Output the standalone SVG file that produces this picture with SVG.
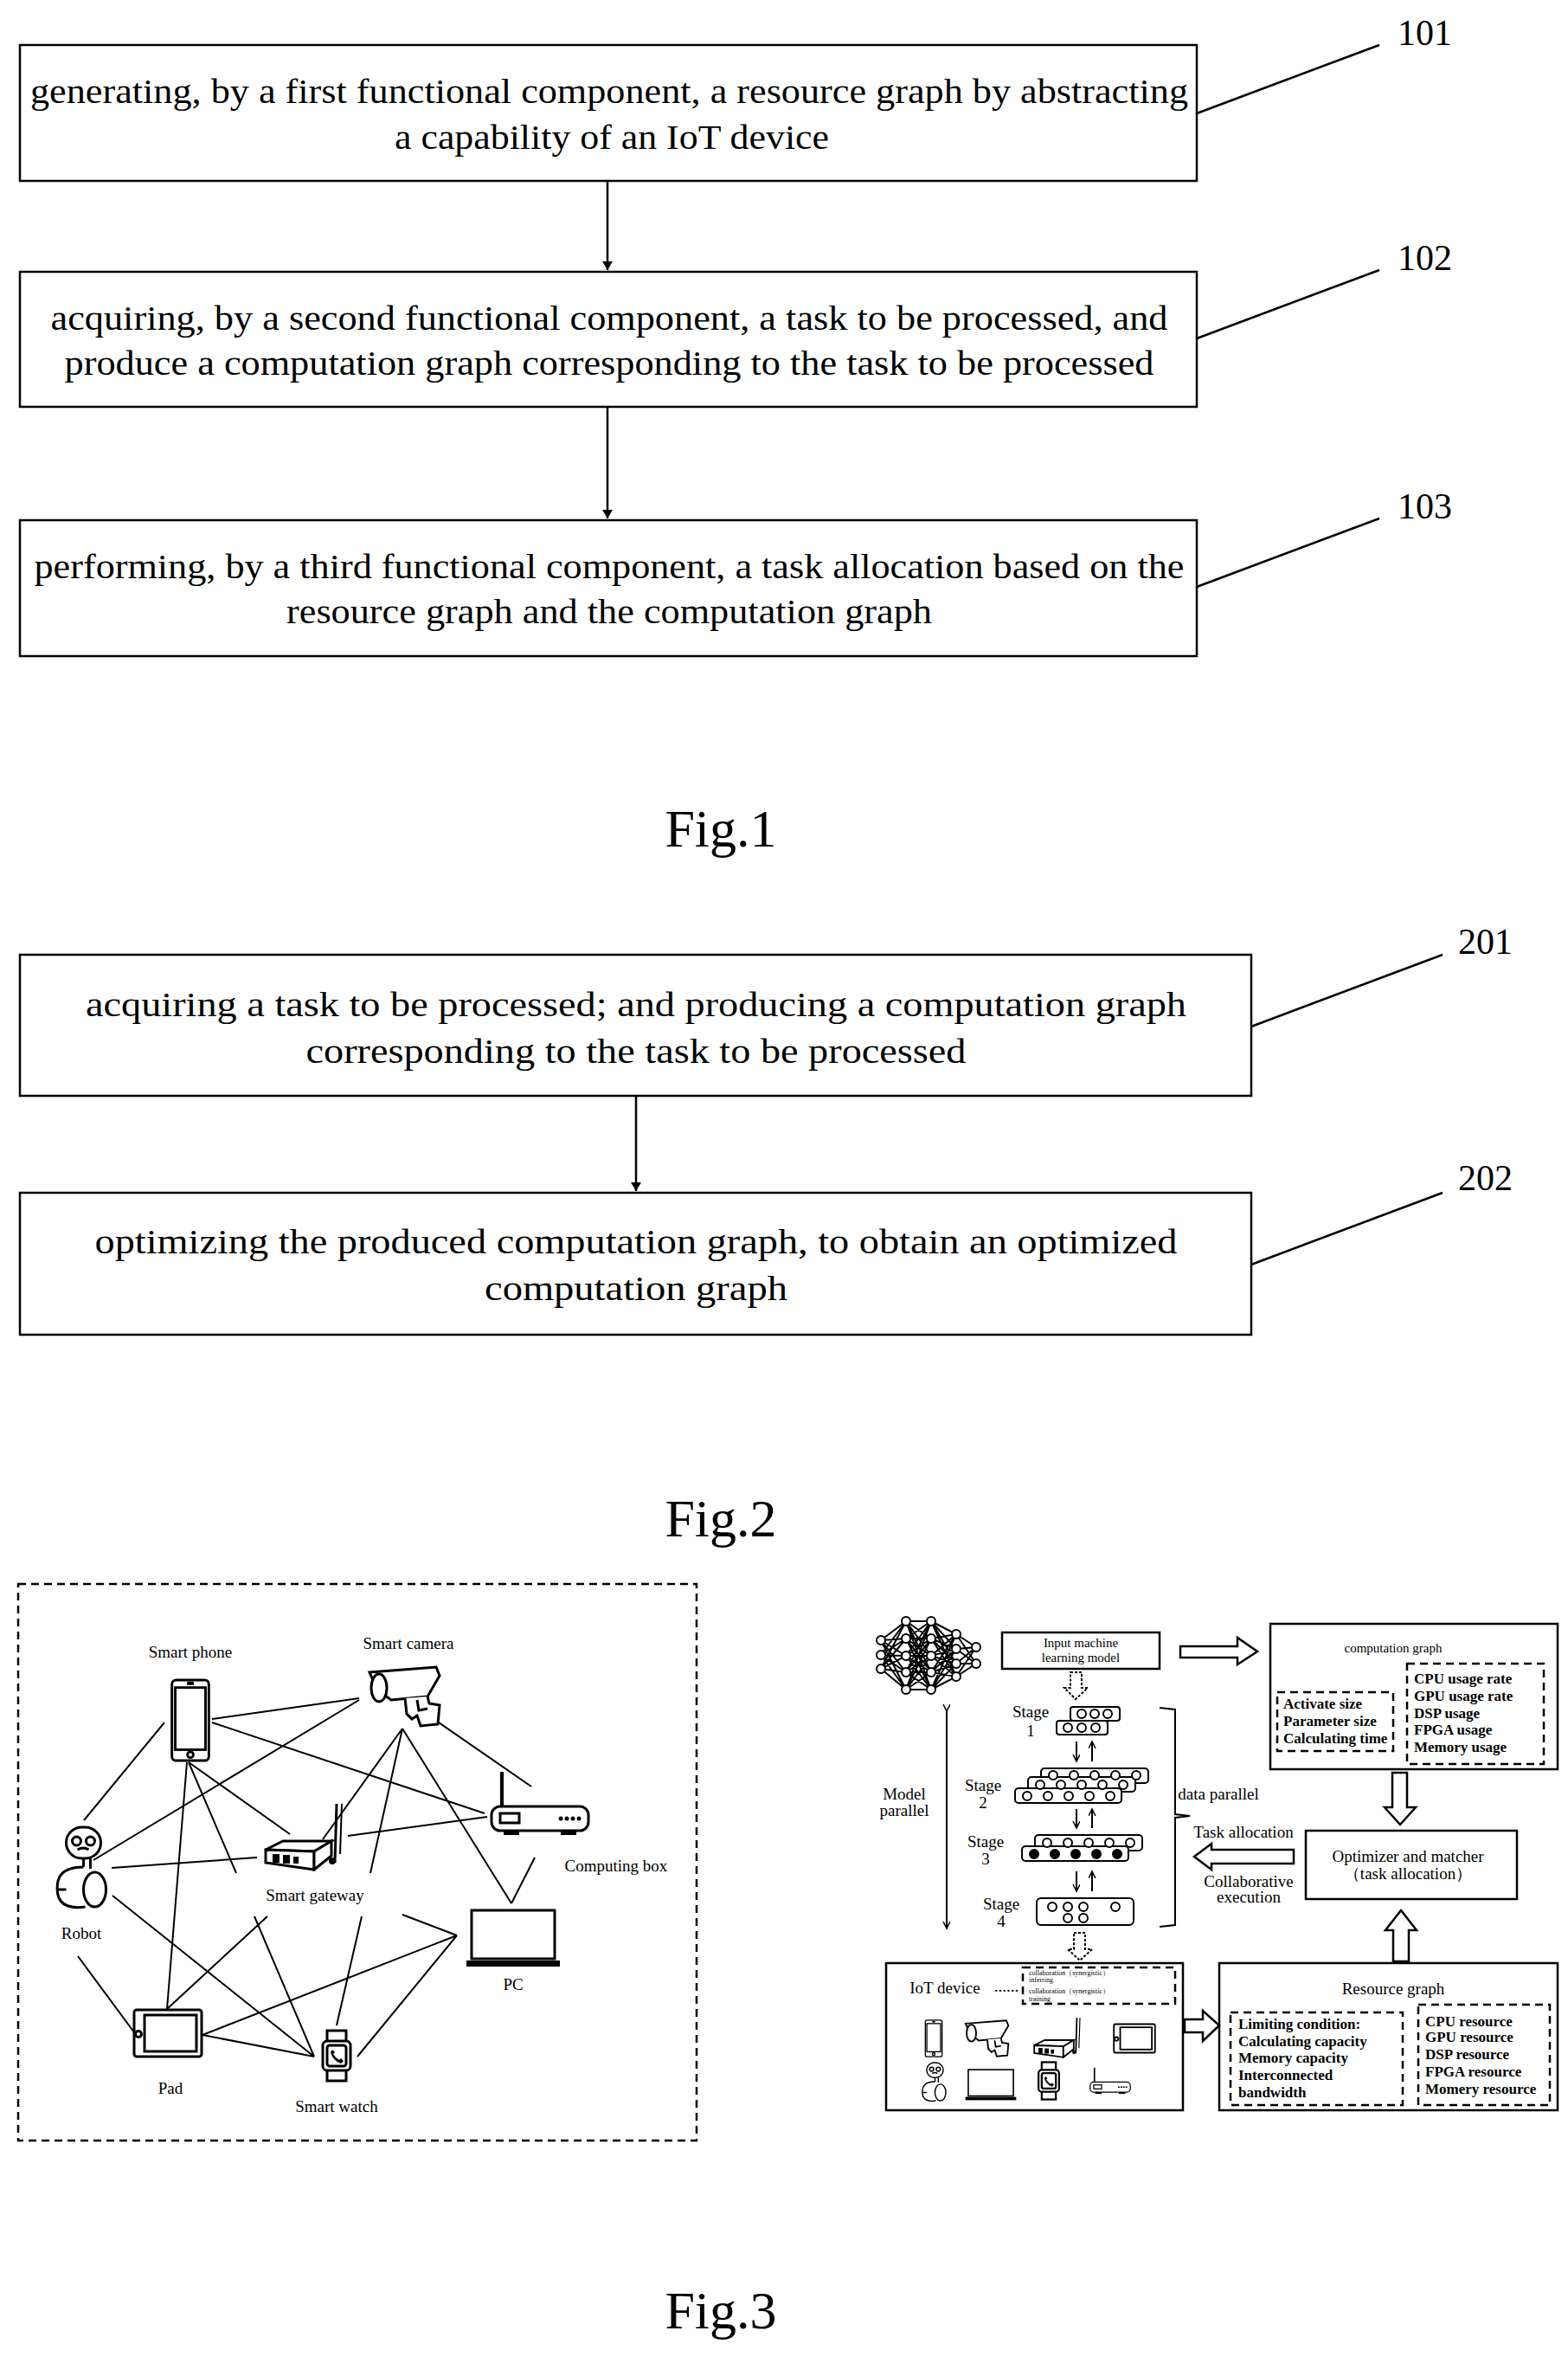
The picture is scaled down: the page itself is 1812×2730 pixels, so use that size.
<svg xmlns="http://www.w3.org/2000/svg" xmlns:xlink="http://www.w3.org/1999/xlink" width="1812" height="2730" viewBox="0 0 1812 2730">
<style>
text{font-family:"Liberation Serif","Times New Roman",serif;fill:#000}
.big{font-size:41px;text-anchor:middle}
.num{font-size:42px}
.fig{font-size:62px;text-anchor:middle}
.lbl{font-size:19px;text-anchor:middle}
.sm{font-size:15px;text-anchor:middle}
.cd{font-size:17px;font-weight:bold}
.tiny{font-size:8px}
.box{fill:#fff;stroke:#000;stroke-width:2.5}
.ln{fill:none;stroke:#000;stroke-width:2.5}
.net{fill:none;stroke:#000;stroke-width:2}
.dash{fill:none;stroke:#000;stroke-width:2.5;stroke-dasharray:9 6}
.hol{fill:#fff;stroke:#000;stroke-width:2.5}
.dhol{fill:#fff;stroke:#000;stroke-width:2;stroke-dasharray:3 2}
.ic{fill:#fff;stroke:#000;stroke-width:3}
.nd{fill:#fff;stroke:#000;stroke-width:2}
</style>
<defs>
<marker id="ah" markerWidth="12" markerHeight="12" refX="10" refY="6" orient="auto" markerUnits="userSpaceOnUse"><path d="M0,0 L10,6 L0,12 z" fill="#000"/></marker>
<marker id="sh" markerWidth="10" markerHeight="10" refX="8" refY="4" orient="auto" markerUnits="userSpaceOnUse"><path d="M0,0 L8,4 L0,8" fill="none" stroke="#000" stroke-width="1.5"/></marker>
<symbol id="s-phone" viewBox="0 0 50 100"><rect x="3" y="2" width="44" height="96" rx="5" class="ic"/><rect x="7" y="11" width="36" height="74" class="ic" stroke-width="2"/><circle cx="25" cy="91" r="3.5" class="ic" stroke-width="2"/><rect x="21" y="4" width="8" height="4" fill="#000"/></symbol>
<symbol id="s-camera" viewBox="0 0 90 72"><path d="M3,8 L80,2 L84,12 L70,36 L28,40 L12,28 Z" class="ic"/><ellipse cx="14" cy="26" rx="9" ry="16" class="ic"/><path d="M44,38 L46,56 L52,62 L58,58 L62,70 L82,68 L84,46 L72,44 L70,36" class="ic"/><path d="M58,40 L60,52 L70,50" class="ic"/></symbol>
<symbol id="s-gateway" viewBox="0 0 100 80"><path d="M2,55 L22,45 L78,45 L58,57 Z" class="ic"/><path d="M2,55 L2,70 L58,78 L58,57 Z" class="ic"/><path d="M58,57 L78,45 L78,62 L58,78 Z" class="ic"/><line x1="84" y1="2" x2="82" y2="70" stroke="#000" stroke-width="3"/><line x1="90" y1="2" x2="88" y2="60" stroke="#000" stroke-width="2"/><rect x="10" y="60" width="8" height="10" fill="#000"/><rect x="22" y="61" width="8" height="10" fill="#000"/><rect x="34" y="63" width="6" height="8" fill="#000"/><circle cx="79" cy="68" r="4" fill="#000"/></symbol>
<symbol id="s-pad" viewBox="0 0 82 58"><rect x="2" y="2" width="78" height="54" rx="3" class="ic"/><rect x="14" y="8" width="60" height="42" class="ic"/><circle cx="7" cy="30" r="3.5" class="ic" stroke-width="2"/></symbol>
<symbol id="s-robot" viewBox="0 0 62 100"><rect x="12" y="4" width="40" height="36" rx="18" class="ic"/><circle cx="24" cy="20" r="5" class="ic" stroke-width="2"/><circle cx="40" cy="20" r="5" class="ic" stroke-width="2"/><path d="M25,30 Q32,26 38,30" class="ic" stroke-width="2"/><path d="M32,40 L32,50 M40,40 L40,52" class="ic" stroke-width="2"/><path d="M32,50 C6,50 0,62 2,80 C4,96 20,98 34,96" class="ic"/><ellipse cx="45" cy="76" rx="13" ry="20" class="ic"/><path d="M2,76 L12,76" class="ic" stroke-width="2"/></symbol>
<symbol id="s-laptop" viewBox="0 0 112 70"><rect x="8" y="2" width="96" height="56" class="ic"/><rect x="2" y="60" width="108" height="7" fill="#000"/></symbol>
<symbol id="s-watch" viewBox="0 0 38 62"><rect x="8" y="2" width="22" height="14" class="ic"/><rect x="8" y="46" width="22" height="14" class="ic"/><rect x="3" y="14" width="32" height="34" rx="5" class="ic"/><rect x="8" y="19" width="22" height="24" rx="3" class="ic" stroke-width="2"/><path d="M14,24 L17,27 L15,29 Q18,34 22,36 L24,34 L27,37 L24,40 Q15,37 12,27 Z" fill="#000"/></symbol>
<symbol id="s-router" viewBox="0 0 120 82"><line x1="16" y1="2" x2="16" y2="42" stroke="#000" stroke-width="4"/><rect x="4" y="42" width="112" height="28" rx="10" class="ic"/><rect x="14" y="50" width="22" height="11" class="ic" stroke-width="2.5"/><circle cx="84" cy="56" r="2.5" fill="#000"/><circle cx="91" cy="56" r="2.5" fill="#000"/><circle cx="98" cy="56" r="2.5" fill="#000"/><circle cx="105" cy="56" r="2.5" fill="#000"/><rect x="18" y="70" width="18" height="5" fill="#000"/><rect x="84" y="70" width="18" height="5" fill="#000"/></symbol>
</defs>

<!-- Fig.1 -->
<g id="n101"><rect x="23" y="52" width="1360" height="157" class="box"/>
<text class="big" x="704" y="119" textLength="1338" lengthAdjust="spacingAndGlyphs">generating, by a first functional component, a resource graph by abstracting</text>
<text class="big" x="707" y="172" textLength="502" lengthAdjust="spacingAndGlyphs">a capability of an IoT device</text></g>
<g id="n102"><rect x="23" y="314" width="1360" height="156" class="box"/>
<text class="big" x="704" y="381" textLength="1291" lengthAdjust="spacingAndGlyphs">acquiring, by a second functional component, a task to be processed, and</text>
<text class="big" x="704" y="433" textLength="1259" lengthAdjust="spacingAndGlyphs">produce a computation graph corresponding to the task to be processed</text></g>
<g id="n103"><rect x="23" y="601" width="1360" height="157" class="box"/>
<text class="big" x="704" y="668" textLength="1329" lengthAdjust="spacingAndGlyphs">performing, by a third functional component, a task allocation based on the</text>
<text class="big" x="704" y="720" textLength="746" lengthAdjust="spacingAndGlyphs">resource graph and the computation graph</text></g>
<text class="num" x="1615" y="52">101</text>
<text class="num" x="1615" y="312">102</text>
<text class="num" x="1615" y="599">103</text>
<text class="fig" x="833" y="978">Fig.1</text>

<!-- Fig.2 -->
<g id="n201"><rect x="23" y="1103" width="1423" height="163" class="box"/>
<text class="big" x="735" y="1174" textLength="1272" lengthAdjust="spacingAndGlyphs">acquiring a task to be processed; and producing a computation graph</text>
<text class="big" x="735" y="1228" textLength="763" lengthAdjust="spacingAndGlyphs">corresponding to the task to be processed</text></g>
<g id="n202"><rect x="23" y="1378" width="1423" height="164" class="box"/>
<text class="big" x="735" y="1448" textLength="1251" lengthAdjust="spacingAndGlyphs">optimizing the produced computation graph, to obtain an optimized</text>
<text class="big" x="735" y="1502" textLength="350" lengthAdjust="spacingAndGlyphs">computation graph</text></g>
<text class="num" x="1685" y="1102">201</text>
<text class="num" x="1685" y="1375">202</text>
<text class="fig" x="833" y="1775">Fig.2</text>

<g id="connectors">
<line x1="702" y1="209" x2="702" y2="312" class="ln" marker-end="url(#ah)"/>
<line x1="702" y1="470" x2="702" y2="599" class="ln" marker-end="url(#ah)"/>
<line x1="1383" y1="131" x2="1594" y2="52" class="ln"/>
<line x1="1383" y1="391" x2="1594" y2="312" class="ln"/>
<line x1="1383" y1="678" x2="1594" y2="599" class="ln"/>
<line x1="735" y1="1266" x2="735" y2="1376" class="ln" marker-end="url(#ah)"/>
<line x1="1446" y1="1186" x2="1667" y2="1103" class="ln"/>
<line x1="1446" y1="1461" x2="1667" y2="1378" class="ln"/>
</g>

<!-- Fig.3 left -->
<rect x="21" y="1830" width="784" height="643" class="dash"/>
<g id="net-links">
<path class="net" d="M245,1986L415,1962 M190,1990L97,2103 M245,1990L560,2095 M415,1964L108,2149 M218,2036L335,2119 M218,2036L273,2164 M216,2036L193,2321 M465,1997L373,2125 M465,1997L428,2164 M465,1997L591,2199 M507,1990L614,2064 M563,2099L402,2121 M618,2146L591,2199 M129,2158L297,2146 M130,2190L363,2376 M90,2260L158,2352 M193,2321L309,2214 M234,2351L363,2376 M234,2351L528,2236 M294,2214L363,2376 M418,2214L389,2340 M465,2212L528,2236 M528,2236L413,2376"/>
</g>
<g id="smart-phone"><use xlink:href="#s-phone" x="194" y="1939" width="52" height="97"/><text class="lbl" x="220" y="1915">Smart phone</text></g>
<g id="smart-camera"><use xlink:href="#s-camera" x="424" y="1924" width="90" height="72"/><text class="lbl" x="472" y="1905">Smart camera</text></g>
<g id="computing-box"><use xlink:href="#s-router" x="563" y="2045" width="122" height="82"/><text class="lbl" x="712" y="2162">Computing box</text></g>
<g id="smart-gateway"><use xlink:href="#s-gateway" x="304" y="2082" width="102" height="80"/><text class="lbl" x="364" y="2196">Smart gateway</text></g>
<g id="robot"><use xlink:href="#s-robot" x="64" y="2107" width="63" height="100"/><text class="lbl" x="94" y="2240">Robot</text></g>
<g id="pc"><use xlink:href="#s-laptop" x="537" y="2205" width="112" height="70"/><text class="lbl" x="593" y="2299">PC</text></g>
<g id="pad"><use xlink:href="#s-pad" x="153" y="2320" width="82" height="58"/><text class="lbl" x="197" y="2419">Pad</text></g>
<g id="smart-watch"><use xlink:href="#s-watch" x="370" y="2344" width="38" height="62"/><text class="lbl" x="389" y="2440">Smart watch</text></g>

<!-- Fig.3 right -->
<g id="nn-icon">
<path class="net" stroke-width="1" d="M1018,1895L1047,1873M1018,1895L1047,1893M1018,1895L1047,1913M1018,1895L1047,1932M1018,1895L1047,1952M1018,1912L1047,1873M1018,1912L1047,1893M1018,1912L1047,1913M1018,1912L1047,1932M1018,1912L1047,1952M1018,1928L1047,1873M1018,1928L1047,1893M1018,1928L1047,1913M1018,1928L1047,1932M1018,1928L1047,1952
M1047,1873L1076,1873M1047,1873L1076,1893M1047,1873L1076,1913M1047,1873L1076,1932M1047,1873L1076,1952M1047,1893L1076,1873M1047,1893L1076,1893M1047,1893L1076,1913M1047,1893L1076,1932M1047,1893L1076,1952M1047,1913L1076,1873M1047,1913L1076,1893M1047,1913L1076,1913M1047,1913L1076,1932M1047,1913L1076,1952M1047,1932L1076,1873M1047,1932L1076,1893M1047,1932L1076,1913M1047,1932L1076,1932M1047,1932L1076,1952M1047,1952L1076,1873M1047,1952L1076,1893M1047,1952L1076,1913M1047,1952L1076,1932M1047,1952L1076,1952
M1076,1873L1105,1888M1076,1873L1105,1905M1076,1873L1105,1922M1076,1873L1105,1937M1076,1893L1105,1888M1076,1893L1105,1905M1076,1893L1105,1922M1076,1893L1105,1937M1076,1913L1105,1888M1076,1913L1105,1905M1076,1913L1105,1922M1076,1913L1105,1937M1076,1932L1105,1888M1076,1932L1105,1905M1076,1932L1105,1922M1076,1932L1105,1937M1076,1952L1105,1888M1076,1952L1105,1905M1076,1952L1105,1922M1076,1952L1105,1937
M1105,1888L1128,1903M1105,1888L1128,1922M1105,1905L1128,1903M1105,1905L1128,1922M1105,1922L1128,1903M1105,1922L1128,1922M1105,1937L1128,1903M1105,1937L1128,1922"/>
<g class="nd">
<circle cx="1018" cy="1895" r="5"/><circle cx="1018" cy="1912" r="5"/><circle cx="1018" cy="1928" r="5"/>
<circle cx="1047" cy="1873" r="5"/><circle cx="1047" cy="1893" r="5"/><circle cx="1047" cy="1913" r="5"/><circle cx="1047" cy="1932" r="5"/><circle cx="1047" cy="1952" r="5"/>
<circle cx="1076" cy="1873" r="5"/><circle cx="1076" cy="1893" r="5"/><circle cx="1076" cy="1913" r="5"/><circle cx="1076" cy="1932" r="5"/><circle cx="1076" cy="1952" r="5"/>
<circle cx="1105" cy="1888" r="5"/><circle cx="1105" cy="1905" r="5"/><circle cx="1105" cy="1922" r="5"/><circle cx="1105" cy="1937" r="5"/>
<circle cx="1128" cy="1903" r="5"/><circle cx="1128" cy="1922" r="5"/></g>
</g>
<g id="input-model"><rect x="1158" y="1886" width="182" height="42" class="box"/>
<text class="sm" x="1249" y="1903">Input machine</text><text class="sm" x="1249" y="1920">learning model</text></g>
<g id="computation-graph"><rect x="1468" y="1876" width="332" height="168" class="box"/>
<text class="sm" x="1610" y="1909">computation graph</text>
<rect x="1476" y="1955" width="134" height="68" class="dash" stroke-width="2" stroke-dasharray="6 4"/>
<text class="cd" x="1483" y="1974">Activate size</text><text class="cd" x="1483" y="1994">Parameter size</text><text class="cd" x="1483" y="2014">Calculating time</text>
<rect x="1626" y="1922" width="158" height="116" class="dash" stroke-width="2" stroke-dasharray="6 4"/>
<text class="cd" x="1634" y="1945">CPU usage rate</text><text class="cd" x="1634" y="1965">GPU usage rate</text><text class="cd" x="1634" y="1985">DSP usage</text><text class="cd" x="1634" y="2004">FPGA usage</text><text class="cd" x="1634" y="2024">Memory usage</text></g>
<g id="optimizer"><rect x="1509" y="2115" width="244" height="79" class="box"/>
<text class="lbl" x="1627" y="2151">Optimizer and matcher</text><text class="lbl" x="1627" y="2171">（task allocation）</text></g>
<g id="stages">
<text class="lbl" x="1191" y="1984">Stage</text><text class="lbl" x="1191" y="2006">1</text>
<text class="lbl" x="1136" y="2069">Stage</text><text class="lbl" x="1136" y="2089">2</text>
<text class="lbl" x="1139" y="2134">Stage</text><text class="lbl" x="1139" y="2154">3</text>
<text class="lbl" x="1157" y="2206">Stage</text><text class="lbl" x="1157" y="2226">4</text>
<g class="nd" stroke-width="2.5">
<rect x="1237" y="1972" width="57" height="16" rx="3"/><rect x="1221" y="1988" width="59" height="16" rx="3"/>
<rect x="1203" y="2043" width="124" height="17" rx="4"/><rect x="1188" y="2053" width="124" height="17" rx="4"/><rect x="1173" y="2066" width="123" height="17" rx="4"/>
<rect x="1196" y="2120" width="124" height="18" rx="4"/><rect x="1181" y="2133" width="123" height="17" rx="4"/>
<rect x="1198" y="2193" width="112" height="31" rx="5"/></g>
<g class="nd" stroke-width="2.5">
<circle cx="1250" cy="1980" r="5"/><circle cx="1265" cy="1980" r="5"/><circle cx="1280" cy="1980" r="5"/>
<circle cx="1234" cy="1996" r="5"/><circle cx="1250" cy="1996" r="5"/><circle cx="1266" cy="1996" r="5"/>
<circle cx="1217" cy="2051" r="5"/><circle cx="1241" cy="2051" r="5"/><circle cx="1265" cy="2051" r="5"/><circle cx="1289" cy="2051" r="5"/><circle cx="1313" cy="2051" r="5"/>
<circle cx="1202" cy="2062" r="5"/><circle cx="1226" cy="2062" r="5"/><circle cx="1250" cy="2062" r="5"/><circle cx="1274" cy="2062" r="5"/><circle cx="1298" cy="2062" r="5"/>
<circle cx="1187" cy="2075" r="5"/><circle cx="1211" cy="2075" r="5"/><circle cx="1235" cy="2075" r="5"/><circle cx="1259" cy="2075" r="5"/><circle cx="1283" cy="2075" r="5"/>
<circle cx="1210" cy="2129" r="5"/><circle cx="1234" cy="2129" r="5"/><circle cx="1258" cy="2129" r="5"/><circle cx="1282" cy="2129" r="5"/><circle cx="1306" cy="2129" r="5"/>
<circle cx="1195" cy="2142" r="5" fill="#000"/><circle cx="1219" cy="2142" r="5" fill="#000"/><circle cx="1243" cy="2142" r="5" fill="#000"/><circle cx="1267" cy="2142" r="5" fill="#000"/><circle cx="1291" cy="2142" r="5" fill="#000"/>
<circle cx="1216" cy="2203" r="5"/><circle cx="1234" cy="2203" r="5"/><circle cx="1252" cy="2203" r="5"/><circle cx="1289" cy="2203" r="5"/>
<circle cx="1234" cy="2216" r="5"/><circle cx="1252" cy="2216" r="5"/></g>
</g>
<g id="labels-right">
<text class="lbl" x="1045" y="2079">Model</text><text class="lbl" x="1045" y="2098">parallel</text>
<text class="lbl" x="1408" y="2079">data parallel</text>
<text class="lbl" x="1437" y="2123">Task allocation</text>
<text class="lbl" x="1443" y="2180">Collaborative</text><text class="lbl" x="1443" y="2198">execution</text>
</g>
<g id="iot-device"><rect x="1024" y="2268" width="343" height="170" class="box"/>
<text class="lbl" x="1092" y="2303">IoT device</text><text class="lbl" x="1163" y="2301">......</text>
<rect x="1182" y="2273" width="176" height="42" class="dash" stroke-width="2" stroke-dasharray="6 4"/>
<text class="tiny" x="1189" y="2282">collaboration（synergistic）</text><text class="tiny" x="1189" y="2290">inferring</text>
<text class="tiny" x="1189" y="2303">collaboration（synergistic）</text><text class="tiny" x="1189" y="2312">training</text>
<use xlink:href="#s-phone" x="1068" y="2333" width="22" height="44"/>
<use xlink:href="#s-camera" x="1114" y="2333" width="55" height="44"/>
<use xlink:href="#s-gateway" x="1185" y="2330" width="78" height="48"/>
<use xlink:href="#s-pad" x="1286" y="2335" width="50" height="40"/>
<use xlink:href="#s-robot" x="1065" y="2381" width="30" height="48"/>
<use xlink:href="#s-laptop" x="1114" y="2390" width="62" height="38"/>
<use xlink:href="#s-watch" x="1195" y="2381" width="34" height="46"/>
<use xlink:href="#s-router" x="1258" y="2388" width="50" height="34"/></g>
<g id="resource-graph"><rect x="1409" y="2268" width="391" height="170" class="box"/>
<text class="lbl" x="1610" y="2304">Resource graph</text>
<rect x="1422" y="2325" width="199" height="107" class="dash" stroke-width="2" stroke-dasharray="6 4"/>
<text class="cd" x="1431" y="2344">Limiting condition:</text><text class="cd" x="1431" y="2364">Calculating capacity</text><text class="cd" x="1431" y="2383">Memory capacity</text><text class="cd" x="1431" y="2403">Interconnected</text><text class="cd" x="1431" y="2423">bandwidth</text>
<rect x="1639" y="2316" width="152" height="116" class="dash" stroke-width="2" stroke-dasharray="6 4"/>
<text class="cd" x="1647" y="2341">CPU resource</text><text class="cd" x="1647" y="2359">GPU resource</text><text class="cd" x="1647" y="2379">DSP resource</text><text class="cd" x="1647" y="2399">FPGA resource</text><text class="cd" x="1647" y="2419">Momery resource</text></g>
<g id="fig3-connectors">
<polygon class="hol" points="1364,1902 1430,1902 1430,1892 1453,1908 1430,1923 1430,1915 1364,1915"/>
<polygon class="hol" points="1609,2048 1626,2048 1626,2088 1636,2088 1618,2108 1600,2088 1609,2088"/>
<polygon class="hol" points="1610,2266 1628,2266 1628,2230 1637,2230 1619,2207 1601,2230 1610,2230"/>
<polygon class="hol" points="1495,2137 1400,2137 1400,2130 1380,2145 1400,2160 1400,2153 1495,2153"/>
<polygon class="hol" points="1369,2333 1390,2333 1390,2323 1409,2340 1390,2358 1390,2348 1369,2348"/>
<polygon class="dhol" points="1237,1932 1250,1932 1250,1950 1257,1950 1243,1963 1230,1950 1237,1950"/>
<polygon class="dhol" points="1241,2233 1254,2233 1254,2252 1262,2252 1248,2265 1234,2252 1241,2252"/>
<path class="net" d="M1340,1973 L1358,1975 L1358,2096 L1375,2098 L1358,2100 L1358,2224 L1340,2226"/>
<line x1="1094" y1="1977" x2="1094" y2="2228" class="net" marker-start="url(#sh)" marker-end="url(#sh)"/>
<line x1="1244" y1="2012" x2="1244" y2="2035" class="net" marker-end="url(#sh)"/>
<line x1="1262" y1="2035" x2="1262" y2="2012" class="net" marker-end="url(#sh)"/>
<line x1="1244" y1="2090" x2="1244" y2="2112" class="net" marker-end="url(#sh)"/>
<line x1="1262" y1="2112" x2="1262" y2="2090" class="net" marker-end="url(#sh)"/>
<line x1="1244" y1="2162" x2="1244" y2="2185" class="net" marker-end="url(#sh)"/>
<line x1="1262" y1="2185" x2="1262" y2="2162" class="net" marker-end="url(#sh)"/>
</g>
<text class="fig" x="833" y="2690">Fig.3</text>
</svg>
